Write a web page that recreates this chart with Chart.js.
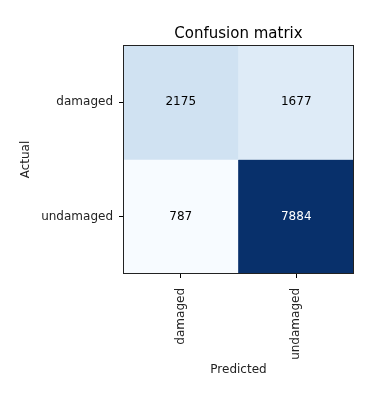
<!DOCTYPE html>
<html>
<head>
<meta charset="utf-8">
<script src="https://cdn.jsdelivr.net/npm/chart.js@4"></script>
<style>
  html, body { margin: 0; padding: 0; background: #fff; }
  #wrap { width: 368px; height: 399px; }
</style>
</head>
<body>
<div id="wrap"><canvas id="cm" width="368" height="399"></canvas></div>
<script>
  const actualLabels = ['damaged', 'undamaged'];
  const predictedLabels = ['damaged', 'undamaged'];
  const matrixDamaged = [2175, 1677];
  const matrixUndamaged = [787, 7884];
  const matrix = [matrixDamaged, matrixUndamaged];

  // matplotlib "Blues" colormap stops
  const blues = ['#f7fbff', '#deebf7', '#c6dbef', '#9ecae1', '#6baed6', '#4292c6', '#2171b5', '#08519c', '#08306b'];
  const all = matrix.flat();
  const vmin = Math.min(...all), vmax = Math.max(...all);
  const thresh = vmax / 2;

  function hex(h) { return [1, 3, 5].map(i => parseInt(h.substr(i, 2), 16)); }
  function bluesColor(v) {
    const t = (v - vmin) / (vmax - vmin) * (blues.length - 1);
    const i = Math.min(Math.floor(t), blues.length - 2);
    const f = t - i;
    const a = hex(blues[i]), b = hex(blues[i + 1]);
    const c = a.map((x, k) => Math.round(x + (b[k] - x) * f));
    return 'rgb(' + c.join(',') + ')';
  }

  const datasets = matrix.map((row, i) => ({
    label: actualLabels[i],
    data: predictedLabels.map((p, j) => ({ x: p, y: [i, i + 1], v: row[j] })),
    backgroundColor: row.map(v => bluesColor(v)),
    borderWidth: 0,
    barPercentage: 1,
    categoryPercentage: 1,
    grouped: false
  }));

  // numbers inside the cells + frame around the plot
  const cellText = {
    id: 'cellText',
    afterDatasetsDraw(chart) {
      const ctx = chart.ctx;
      ctx.save();
      ctx.font = '12px "DejaVu Sans"';
      ctx.textAlign = 'center';
      ctx.textBaseline = 'middle';
      chart.data.datasets.forEach((ds, i) => {
        chart.getDatasetMeta(i).data.forEach((el, j) => {
          const v = ds.data[j].v;
          const p = el.getCenterPoint();
          ctx.fillStyle = v > thresh ? '#ffffff' : '#000000';
          ctx.fillText(String(v), p.x, p.y);
        });
      });
      const a = chart.chartArea;
      ctx.strokeStyle = '#222';
      ctx.lineWidth = 1;
      ctx.strokeRect(a.left + 0.5, a.top + 0.5, a.right - a.left - 1, a.bottom - a.top - 1);
      ctx.restore();
    }
  };

  const tickFont = { family: 'DejaVu Sans', size: 12 };

  new Chart(document.getElementById('cm').getContext('2d'), {
    type: 'bar',
    data: { labels: predictedLabels, datasets: datasets },
    options: {
      responsive: false,
      animation: false,
      layout: { padding: { left: 0, right: 14, top: 0, bottom: 0 } },
      plugins: {
        legend: { display: false },
        tooltip: { enabled: false },
        title: {
          display: true,
          fullSize: false,
          text: 'Confusion matrix',
          color: '#000',
          font: { family: 'DejaVu Sans', size: 15, weight: 'normal' },
          padding: { top: 25, bottom: 2 }
        }
      },
      scales: {
        x: {
          type: 'category',
          grid: { display: true, offset: false, drawOnChartArea: false, drawTicks: true, tickLength: 4, color: '#000' },
          border: { display: false },
          ticks: { color: '#222', font: tickFont, minRotation: 90, maxRotation: 90, padding: 10 },
          title: { display: true, text: 'Predicted', color: '#222', font: tickFont, padding: { top: 0, bottom: 22 } },
          afterFit(scale) { scale.height = 125; }
        },
        y: {
          type: 'linear',
          min: 0,
          max: 2,
          reverse: true,
          grid: { display: true, drawOnChartArea: false, drawTicks: true, tickLength: 4, color: '#000' },
          border: { display: false },
          afterBuildTicks(scale) {
            scale.ticks = actualLabels.map((l, i) => ({ value: i + 0.5 }));
          },
          ticks: {
            color: '#222',
            font: tickFont,
            padding: 6,
            callback: (v) => actualLabels[Math.floor(v)]
          },
          title: { display: true, text: 'Actual', color: '#222', font: tickFont, padding: { top: 19, bottom: 0 } },
          afterFit(scale) { scale.width = 123; }
        }
      }
    },
    plugins: [cellText]
  });
</script>
</body>
</html>
